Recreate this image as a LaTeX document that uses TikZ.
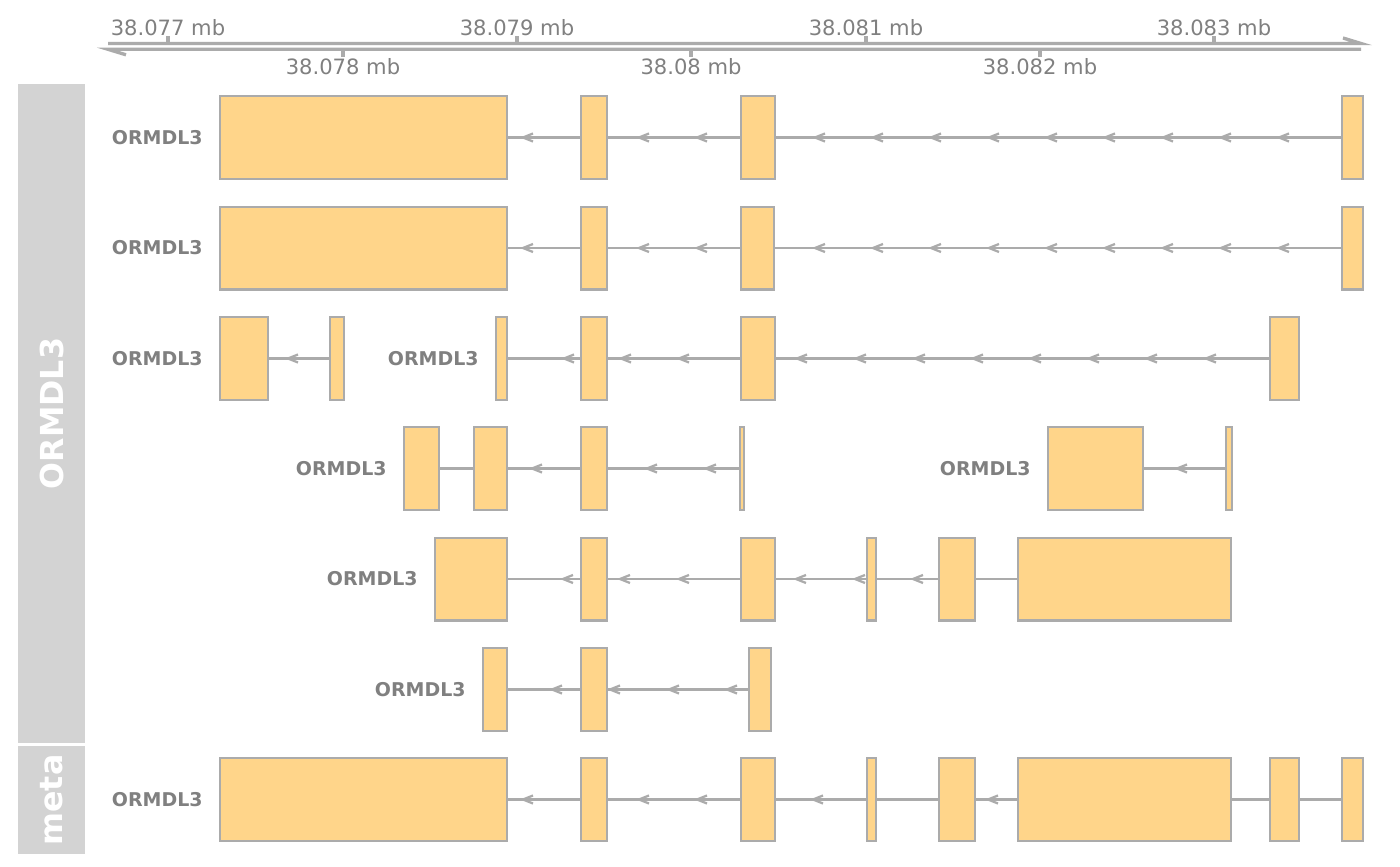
\documentclass[tikz,border=0pt]{standalone}
\usepackage{fontspec}
\setmainfont{DejaVu Sans}
\usepackage{tikz}
\usetikzlibrary{positioning}

\definecolor{exonfill}{HTML}{FFD58A}
\definecolor{exonline}{HTML}{ABABAB}
\definecolor{labelgray}{HTML}{808080}
\definecolor{panelgray}{HTML}{D3D3D3}

% #1 prefix, #2 row centre, #3 number of exons, #4 exons, #5 arrow tips
\newcommand{\drawtx}[5]{%
  \foreach \a/\b [count=\i] in {#4}
    \node[exon, minimum width={(\b-\a)*0.02cm}] (#1e\i) at ({(\a+\b)/2},#2) {};
  \node[genelabel, left=0.34cm of #1e1] (#1lab) {ORMDL3};
  \foreach \i [remember=\i as \p (initially 1)] in {2,...,#3}
    \draw[intron] (#1e\p.east) -- (#1e\i.west);
  \foreach \t in {#5}
    \draw[chev] (\t+10,#2-4) -- (\t,#2) -- (\t+10,#2+4);
}

\begin{document}
\begin{tikzpicture}[x=0.02cm, y=-0.02cm,
    exon/.style={draw=exonline, fill=exonfill, line width=1.15pt, minimum height=1.66cm, inner sep=0pt, outer sep=0pt},
    intron/.style={draw=exonline, line width=1.3pt},
    chev/.style={draw=exonline, line width=1.3pt, line join=miter},
    genelabel/.style={text=labelgray, font=\fontsize{10.8}{12}\selectfont\bfseries, inner sep=0pt, anchor=east},
    panel/.style={fill=panelgray, draw=none},
    paneltitle/.style={text=white, font=\fontsize{18}{20}\selectfont\bfseries, rotate=90, inner sep=0pt},
    axisline/.style={draw=exonline, line width=1.9pt},
    ticklabel/.style={text=labelgray, font=\fontsize{12}{14}\selectfont, inner sep=0pt, anchor=base}]
\useasboundingbox (0,0) rectangle (1400,866);

% side panels
\fill[panel] (18,84) rectangle (85,743);
\fill[panel] (18,746) rectangle (85,854);
\node[paneltitle] (ptrack) at (51.5,413.5) {ORMDL3};
\node[paneltitle] (pmeta) at (51.5,800) {meta};

% genome axis
\coordinate (axtl) at (108,43.5);
\coordinate (axtr) at (1361,43.5);
\coordinate (axbl) at (108,49.3);
\coordinate (axbr) at (1361,49.3);
\draw[axisline] (axtl) -- (axtr) -- ++(-18,-5.5);
\draw[axisline] (axbr) -- (axbl) -- ++(18,5.5);
\foreach \x/\lab in {168/38.077,517/38.079,866/38.081,1214/38.083} {
    \draw[axisline] (\x,43.5) -- (\x,36);
    \node[ticklabel] (t\lab) at (\x,35) {\lab\ mb};
}
\foreach \x/\lab in {343/38.078,691/38.08,1040/38.082} {
    \draw[axisline] (\x,49.3) -- (\x,57);
    \node[ticklabel] (t\lab) at (\x,74) {\lab\ mb};
}

% transcripts
\drawtx{a}{137.5}{4}{220/507,581/607,741/775,1342/1363}{523,639,697,815,873,931,989,1047,1105,1163,1221,1279}
\drawtx{b}{248}{4}{220/507,581/607,741/774,1342/1363}{523,639,697,815,873,931,989,1047,1105,1163,1221,1279}
\drawtx{c}{358.5}{2}{220/268,330/344}{288}
\drawtx{d}{358.5}{4}{496/507,581/607,741/775,1270/1299}{564,621,679,797,856,915,973,1031,1089,1147,1206}
\drawtx{f}{468.5}{4}{404/439,474/507,581/607,740/744}{532,647,706}
\drawtx{g}{468.5}{2}{1048/1143,1226/1232}{1177}
\drawtx{h}{579}{6}{435/507,581/607,741/775,867/876,939/975,1018/1231}{563,620,679,796,855,913}
\drawtx{k}{689.5}{3}{483/507,581/607,749/771}{552,610,669,727}

% meta track
\drawtx{m}{799.5}{8}{220/507,581/607,741/775,867/876,939/975,1018/1231,1270/1299,1342/1363}{523,639,697,813,988}

\end{tikzpicture}
\end{document}
